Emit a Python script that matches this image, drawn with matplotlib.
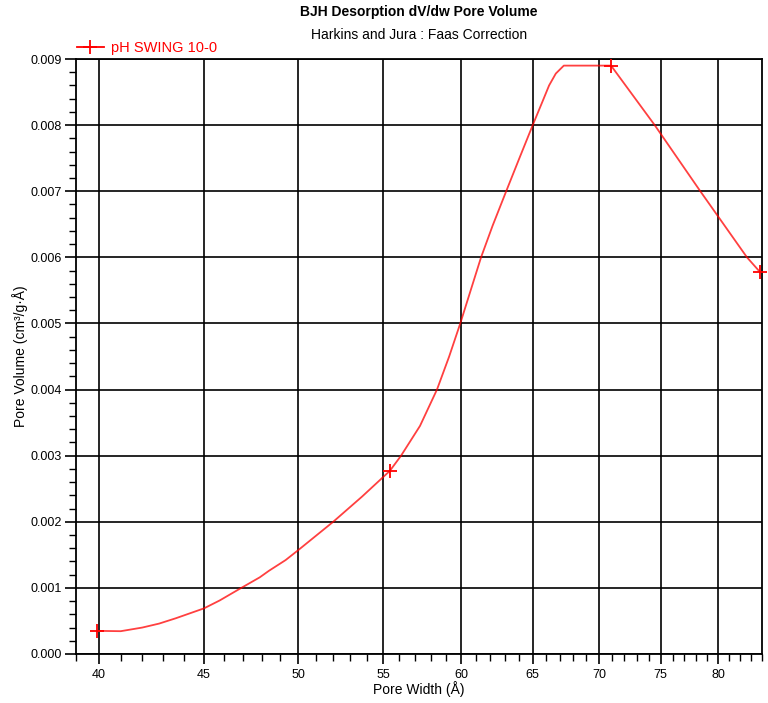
import matplotlib
matplotlib.use("Agg")
import matplotlib.pyplot as plt
from matplotlib.ticker import FixedLocator, MultipleLocator, FormatStrFormatter, NullFormatter

plt.rcParams['font.family'] = ['Liberation Sans', 'DejaVu Sans']

# Smoothed dV/dw curve (pore width in Å, pore volume in cm³/g·Å)
curve_width = [39.94, 41.0, 42.0, 42.8, 43.6, 45.0, 45.8, 46.8, 47.9, 48.4,
               49.3, 50.0, 52.0, 53.7, 55.4, 56.1, 57.3, 58.4, 59.2, 59.94,
               61.35, 62.15, 63.1, 64.0, 65.0, 65.7, 66.2, 66.7, 67.3, 70.95,
               74.5, 78.4, 82.6, 83.8]
curve_volume = [0.00035, 0.000345, 0.0004, 0.00046, 0.00054, 0.00069, 0.00081,
                0.00098, 0.00116, 0.00126, 0.00142, 0.00157, 0.0020, 0.00238,
                0.00277, 0.0030, 0.00345, 0.0040, 0.0045, 0.0050, 0.0060,
                0.00648, 0.0070, 0.00748, 0.0080, 0.00835, 0.0086, 0.00878,
                0.0089, 0.0089, 0.0080, 0.0070, 0.0060, 0.00578]

# Measured points
point_width = [39.94, 55.4, 70.95, 83.8]
point_volume = [0.00035, 0.00277, 0.0089, 0.00578]

series_name = "pH SWING 10-0"
x_major = [40, 45, 50, 55, 60, 65, 70, 75, 80]
x_minor = list(range(39, 85))

fig = plt.figure(figsize=(7.68, 7.03), dpi=100)
ax = fig.add_axes([76 / 768, 1 - 654 / 703, (762 - 76) / 768, (654 - 59) / 703])

ax.plot(curve_width, curve_volume, color='red', lw=1.3, alpha=0.75, zorder=3)
ax.plot(point_width, point_volume, linestyle='none', marker='+', color='red',
        markersize=10, markeredgewidth=1.3, zorder=4, clip_on=False)

# Legend proxy
ax.plot([], [], color='red', marker='+', markersize=10, markeredgewidth=1.3,
        lw=1.3, label=series_name)
leg = ax.legend(loc='lower left', bbox_to_anchor=(-0.004, 1.0), frameon=False,
                borderaxespad=0.25, borderpad=0.0, handlelength=1.85,
                handletextpad=0.5, fontsize=10.5)
for t in leg.get_texts():
    t.set_color('red')

ax.set_xscale('log')
ax.set_xlim(39, 84)
ax.set_ylim(0, 0.009)

ax.xaxis.set_major_locator(FixedLocator(x_major))
ax.xaxis.set_minor_locator(FixedLocator(x_minor))
ax.xaxis.set_major_formatter(FormatStrFormatter('%d'))
ax.xaxis.set_minor_formatter(NullFormatter())
ax.yaxis.set_major_locator(MultipleLocator(0.001))
ax.yaxis.set_minor_locator(MultipleLocator(0.0002))
ax.yaxis.set_major_formatter(FormatStrFormatter('%.3f'))

ax.tick_params(axis='both', which='major', direction='out', length=8, width=1.2,
               color='black', labelsize=9, pad=2)
ax.tick_params(axis='x', which='major', length=7, pad=4)
ax.tick_params(axis='both', which='minor', direction='out', length=5, width=1.0,
               color='black')
ax.tick_params(axis='x', which='minor', length=5)

ax.grid(True, which='major', color='black', lw=1.2)
for sp in ax.spines.values():
    sp.set_color('black')
    sp.set_linewidth(1.3)

ax.set_xlabel("Pore Width (Å)", fontsize=10, labelpad=0)
ax.set_ylabel("Pore Volume (cm³/g·Å)", fontsize=10, labelpad=2)

fig.text(419 / 768, 1 - 12 / 703, "BJH Desorption dV/dw Pore Volume",
         ha='center', va='center', fontsize=10, fontweight='bold')
fig.text(419 / 768, 1 - 35 / 703, "Harkins and Jura : Faas Correction",
         ha='center', va='center', fontsize=10)

fig.savefig("out.png", dpi=100)
